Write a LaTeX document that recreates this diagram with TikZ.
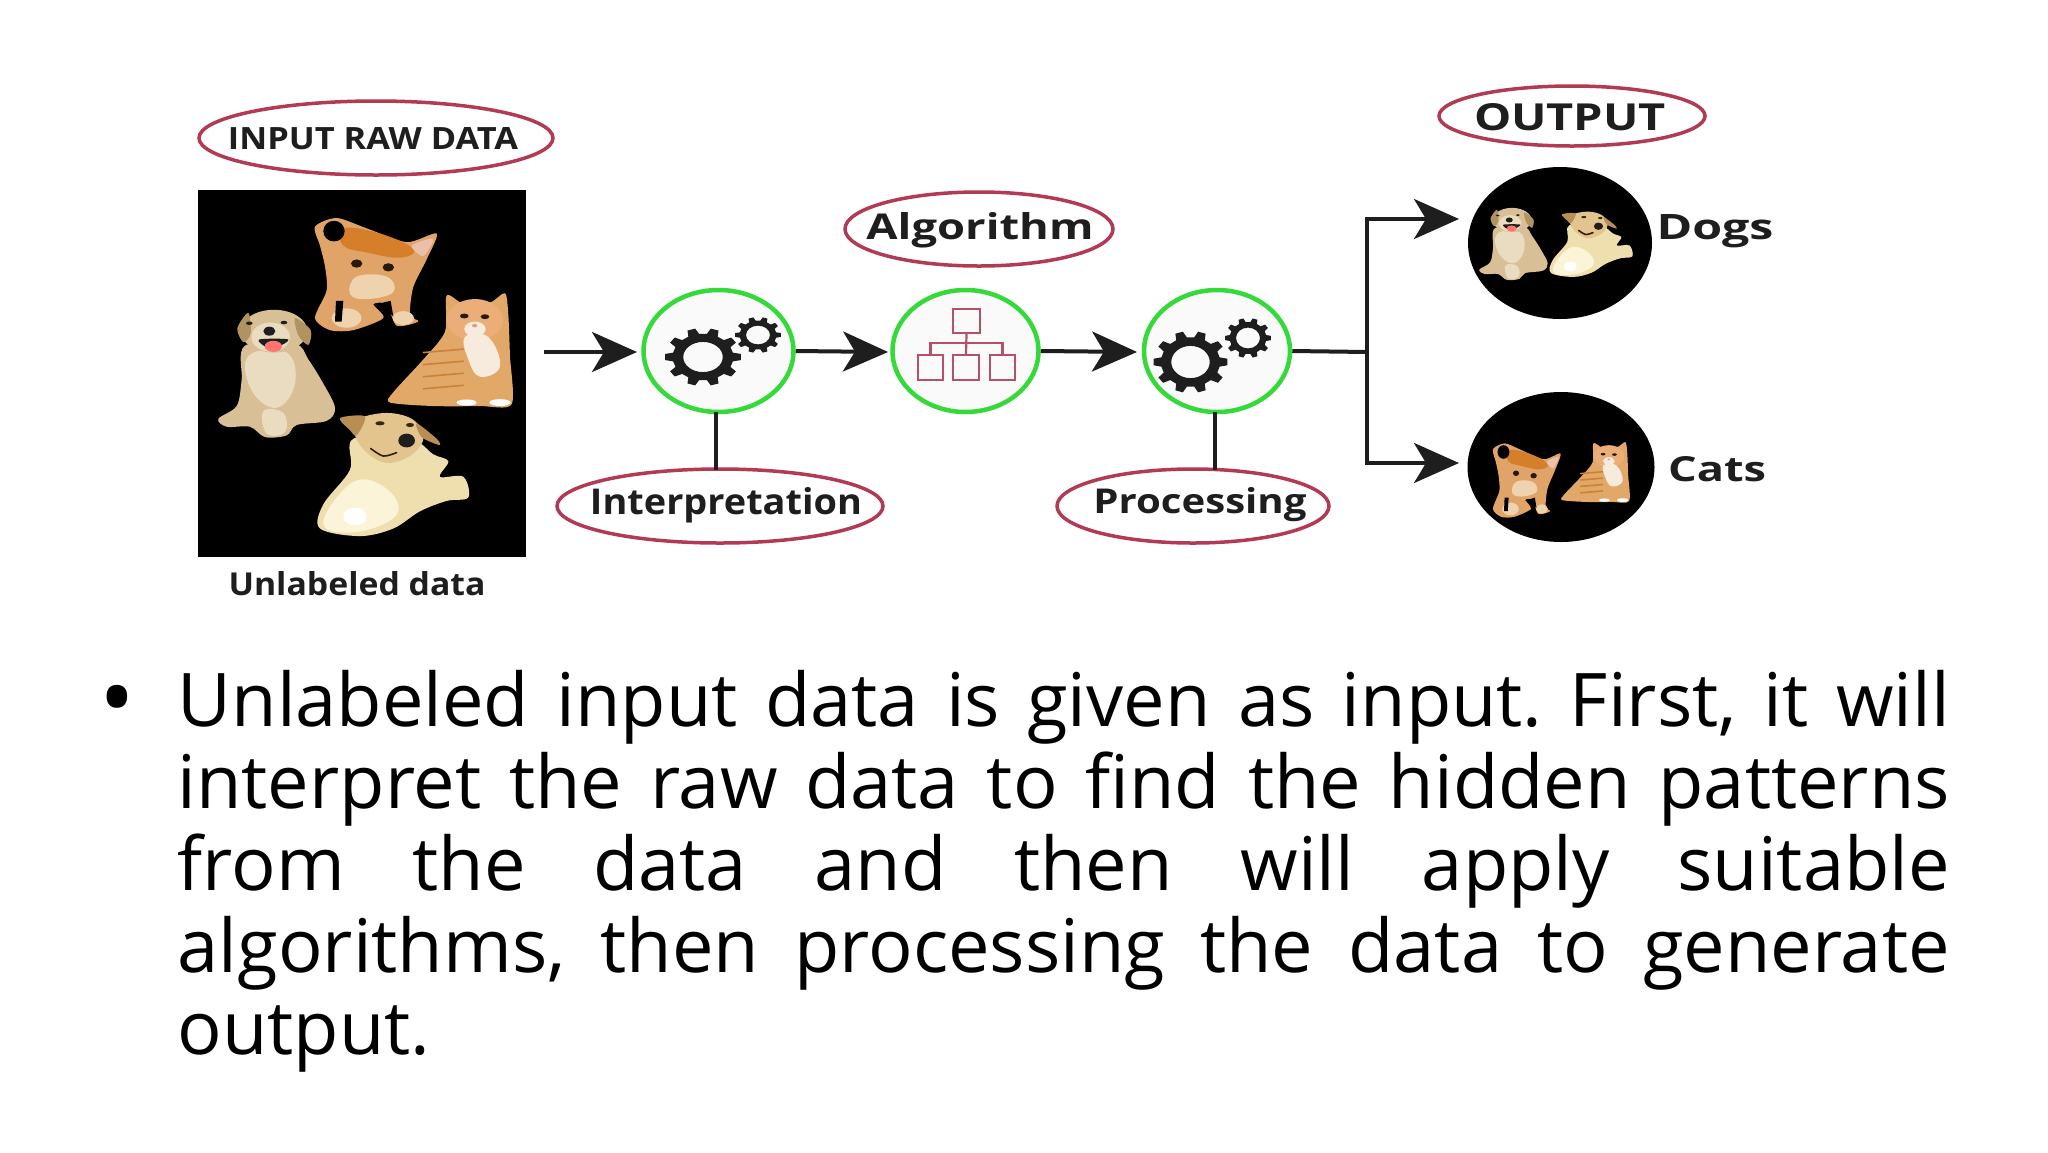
\documentclass[tikz,border=0pt]{standalone}
\usepackage{fontspec}
\setmainfont{Open Sans}
\newfontfamily\labfont{Open Sans}
\usetikzlibrary{arrows.meta,shapes.geometric}
\definecolor{crim}{HTML}{B23A55}
\definecolor{grn}{HTML}{35D93A}
\definecolor{ink}{HTML}{1E1E1E}
\definecolor{orgline}{HTML}{B5506A}
\definecolor{puptan}{HTML}{D8BF96}
\definecolor{puplite}{HTML}{E9DCC0}
\definecolor{pupdark}{HTML}{B0935F}
\definecolor{labcream}{HTML}{EFDFAE}
\definecolor{labwhite}{HTML}{FBF4D8}
\definecolor{labhead}{HTML}{E2C48C}
\definecolor{labear}{HTML}{B98E55}
\definecolor{kitbase}{HTML}{E0A468}
\definecolor{kitdeep}{HTML}{D67F2A}
\definecolor{kitpale}{HTML}{EFD2AE}
\definecolor{catbase}{HTML}{E2A867}
\definecolor{cathead}{HTML}{EBAE78}
\definecolor{catstripe}{HTML}{C98236}
\definecolor{catwhite}{HTML}{F6EBDC}
\tikzset{
  x=1pt,y=-1pt,
  tag/.style={ellipse,draw=crim,line width=3.5pt,fill=white,inner sep=0pt},
  hub/.style={ellipse,draw=grn,line width=4.5pt,fill=black!2,inner sep=0pt,minimum width=150pt,minimum height=122pt},
  blackdisc/.style={ellipse,fill=black,inner sep=0pt},
  lbl/.style={inner sep=0pt,font=\labfont\bfseries,text=ink},
  link/.style={draw=ink,line width=4pt},
  flow/.style={link,-{Stealth[length=45pt,width=40pt,inset=12pt]}},
  orgbox/.style={draw=orgline,line width=2.2pt}
}
\newcommand{\fitw}[3]{\resizebox{#1pt}{#2pt}{#3}}
\newcommand{\gearicon}[5]{%
  \fill[ink,even odd rule,shift={(#1,#2)},xscale=#3,yscale=#4]
    ({.3*360/#5}:.8)
    \foreach \i in {1,...,#5}{
      -- ({(\i-.3)*360/#5}:.8) -- ({(\i-.17)*360/#5}:1)
      -- ({(\i+.17)*360/#5}:1) -- ({(\i+.3)*360/#5}:.8)
    } -- cycle (0,0) circle (.52);}
\newcommand{\puppyart}{%
  \fill[puptan] plot[smooth cycle,tension=.55] coordinates {(195,770) (185,870) (170,945) (115,982) (140,1005) (210,1005) (255,1035) (320,1030) (350,1000) (440,988) (465,950) (430,880) (385,810) (345,765)};
  \fill[puplite] plot[smooth cycle,tension=.7] coordinates {(205,800) (320,790) (345,880) (290,950) (215,900)};
  \fill[puplite] plot[smooth cycle,tension=.7] coordinates {(250,960) (310,965) (315,1020) (260,1025)};
  \fill[puptan] (282,728) ellipse [x radius=100,y radius=62];
  \fill[puplite] (272,745) ellipse [x radius=58,y radius=42];
  \fill[pupdark] plot[smooth cycle] coordinates {(172,720) (205,675) (212,735) (190,760)};
  \fill[pupdark] plot[smooth cycle] coordinates {(345,690) (392,725) (385,768) (355,740)};
  \fill[ink] (208,705) ellipse [x radius=10,y radius=5] (312,703) ellipse [x radius=10,y radius=5] (268,728) ellipse [x radius=18,y radius=13];
  \fill[ink] plot[smooth cycle] coordinates {(238,752) (325,752) (290,775) (255,772)};
  \fill[red!55!white] (280,772) ellipse [x radius=26,y radius=16];}
\newcommand{\labdogart}{%
  \fill[labcream] plot[smooth cycle,tension=.55] coordinates {(520,1040) (690,1040) (760,1085) (805,1105) (780,1150) (850,1150) (865,1210) (800,1220) (720,1250) (640,1300) (540,1322) (420,1300) (430,1230) (510,1130)};
  \fill[labwhite] plot[smooth cycle,tension=.7] coordinates {(520,1165) (620,1185) (650,1260) (530,1310) (430,1285)};
  \fill[white] (525,1265) ellipse [x radius=35,y radius=26];
  \fill[labhead] plot[smooth cycle,tension=.6] coordinates {(530,985) (620,965) (700,985) (730,1040) (690,1090) (620,1110) (560,1080) (525,1030)};
  \fill[labear] plot[smooth cycle] coordinates {(480,980) (555,975) (530,1030) (510,1015)};
  \fill[labear] plot[smooth cycle] coordinates {(710,995) (770,1040) (778,1058) (725,1035)};
  \fill[black!70!brown] (600,995) ellipse [x radius=14,y radius=6] (690,1000) ellipse [x radius=12,y radius=6];
  \fill[ink] (680,1045) ellipse [x radius=25,y radius=20];
  \draw[black!75!brown,line width=1.6pt,line cap=round] plot[smooth] coordinates {(572,1068) (610,1090) (650,1080)};}
\newcommand{\kittenart}{%
  \fill[kitbase] plot[smooth cycle,tension=.45] coordinates {(405,425) (470,400) (560,430) (680,470) (770,445) (740,520) (700,600) (690,680) (715,700) (650,712) (620,650) (580,650) (610,690) (520,725) (450,725) (405,690) (440,610) (435,540) (420,480)};
  \fill[kitdeep] plot[smooth cycle,tension=.7] coordinates {(490,430) (600,445) (700,490) (660,515) (560,500) (490,480)};
  \fill[kitpale] plot[smooth cycle,tension=.7] coordinates {(530,570) (620,570) (640,615) (560,635) (510,620)};
  \fill[kitpale] (500,690) ellipse [x radius=45,y radius=28] (670,690) ellipse [x radius=32,y radius=20];
  \fill[black] (462,438) ellipse [x radius=32,y radius=30];
  \fill[red!25!brown!40!white] plot[smooth cycle] coordinates {(695,480) (760,460) (730,510)};
  \fill[black] (468,640) -- (490,640) -- (485,700) -- (465,700) -- cycle;
  \fill[black] (580,652) -- (632,640) -- (640,685) -- (612,662) -- cycle;
  \fill[black!80!brown] (530,532) ellipse [x radius=17,y radius=12] (625,543) ellipse [x radius=17,y radius=12];}
\newcommand{\catart}{%
  \fill[catbase] plot[smooth cycle,tension=.45] coordinates {(800,625) (850,648) (930,645) (975,618) (985,680) (990,800) (995,940) (900,945) (760,945) (630,935) (640,905) (730,810) (795,730)};
  \fill[cathead] (885,695) ellipse [x radius=85,y radius=60];
  \fill[catwhite] plot[smooth cycle,tension=.7] coordinates {(855,745) (925,745) (960,830) (900,860) (865,810)};
  \fill[catwhite] (885,722) ellipse [x radius=32,y radius=22];
  \foreach \sy in {790,825,860,895}{\draw[catstripe,line width=1.6pt,line cap=round] (730,\sy) -- (850,\sy-10);}
  \fill[white] (860,935) ellipse [x radius=30,y radius=9] (960,935) ellipse [x radius=32,y radius=10];
  \fill[black!80!brown] (853,684) ellipse [x radius=13,y radius=7] (915,686) ellipse [x radius=13,y radius=7];
  \fill[red!30!brown!60!white] (884,712) ellipse [x radius=8,y radius=5];}
\begin{document}
\begin{tikzpicture}
\useasboundingbox (0,0) rectangle (2048,1152);
\fill[white] (0,0) rectangle (2048,1152);
% input image
\node[fill=black,inner sep=0pt,minimum width=328pt,minimum height=367pt] (inimg) at (362,373.5) {};
\begin{scope}[shift={(180,80)},xscale=.3333,yscale=.345]
\puppyart \labdogart \kittenart \catart
\end{scope}
\node[tag,minimum width=354pt,minimum height=74pt] (inputtag) at (376,138) {};
\node[lbl] (inputtxt) at (373,139) {\fitw{290}{22}{INPUT RAW DATA}};
\node[lbl] (unl) at (357,584) {\fitw{257}{24}{Unlabeled data}};
% hubs
\node[hub] (h1) at (718.5,351) {};
\node[hub,minimum width=146pt] (h2) at (965.5,351) {};
\node[hub,minimum width=146pt] (h3) at (1217,351) {};
\gearicon{703}{357}{38}{29}{10}
\gearicon{758}{335}{23}{18}{10}
\gearicon{1190.5}{362}{37}{31}{10}
\gearicon{1248}{338}{23}{20}{10}
% org chart icon
\node[orgbox,inner sep=0pt,minimum width=27pt,minimum height=24pt] (o0) at (966.5,321) {};
\node[orgbox,inner sep=0pt,minimum width=25pt,minimum height=25pt] (o1) at (930.5,367.5) {};
\node[orgbox,inner sep=0pt,minimum width=26pt,minimum height=25pt] (o2) at (966,367.5) {};
\node[orgbox,inner sep=0pt,minimum width=25pt,minimum height=25pt] (o3) at (1002.5,367.5) {};
\coordinate (obar) at (966.5,343);
\draw[orgbox] (o0.south) -- (o2.north);
\draw[orgbox] (o1.north) |- (obar) -| (o3.north);
% tags
\node[tag,minimum width=268pt,minimum height=74pt] (algo) at (979,229) {};
\node[lbl] (algotxt) at (980,230) {\fitw{227}{27}{Algorithm}};
\node[tag,minimum width=326pt,minimum height=74pt] (interp) at (720,506) {};
\node[lbl] (interptxt) at (726,505) {\fitw{272}{27}{Interpretation}};
\node[tag,minimum width=272pt,minimum height=74pt] (proc) at (1193,506) {};
\node[lbl] (proctxt) at (1200,505) {\fitw{213}{26}{Processing}};
\node[tag,minimum width=266pt,minimum height=60pt] (outtag) at (1572,116) {};
\node[lbl] (outtxt) at (1570,117) {\fitw{192}{27}{OUTPUT}};
\coordinate (v1top) at (716,412);
\coordinate (v3top) at (1215,412);
\coordinate (v1bot) at (716,470);
\coordinate (v3bot) at (1215,470);
\draw[link] (v1top) -- (v1bot);
\draw[link] (v3top) -- (v3bot);
% outputs
\node[blackdisc,minimum width=184pt,minimum height=152pt] (dogs) at (1560,243) {};
\node[blackdisc,minimum width=187pt,minimum height=150pt] (cats) at (1561,467) {};
\begin{scope}[shift={(1457,78)},scale=.195]\puppyart\end{scope}
\begin{scope}[shift={(1474,35)},scale=.183]\labdogart\end{scope}
\begin{scope}[shift={(1418,353)},xscale=.185,yscale=.226]\kittenart\end{scope}
\begin{scope}[shift={(1447,329)},scale=.183]\catart\end{scope}
\node[lbl] (dogl) at (1715,231) {\fitw{117}{25}{Dogs}};
\node[lbl] (catl) at (1717,469) {\fitw{98}{25}{Cats}};
% connectors
\coordinate (start) at (544,352);
\coordinate (branch) at (1367,352);
\coordinate (dogin) at (1459,219);
\coordinate (catin) at (1459,463);
\coordinate (h1in) at (637,352);
\coordinate (h2in) at (888,352);
\coordinate (h3in) at (1137,352);
\draw[flow] (start) -- (h1in);
\draw[flow] (h1.east) -- (h2in);
\draw[flow] (h2.east) -- (h3in);
\draw[link] (h3.east) -- (branch);
\draw[flow] (branch) |- (dogin);
\draw[flow] (branch) |- (catin);
% body text
\node[inner sep=0pt,font=\fontsize{95pt}{95pt}\selectfont] (bullet) at (117,708) {•};
\node[anchor=north west,inner sep=0pt,text width=1772pt,align=justify,font=\fontsize{74pt}{82pt}\selectfont] (body) at (177.5,670)
{\frenchspacing\tolerance=10000\hbadness=10000 Unlabeled input data is given as input. First, it will\linebreak
interpret the raw data to find the hidden patterns\linebreak
from the data and then will apply suitable\linebreak
algorithms, then processing the data to generate\linebreak
output.};
\end{tikzpicture}
\end{document}
